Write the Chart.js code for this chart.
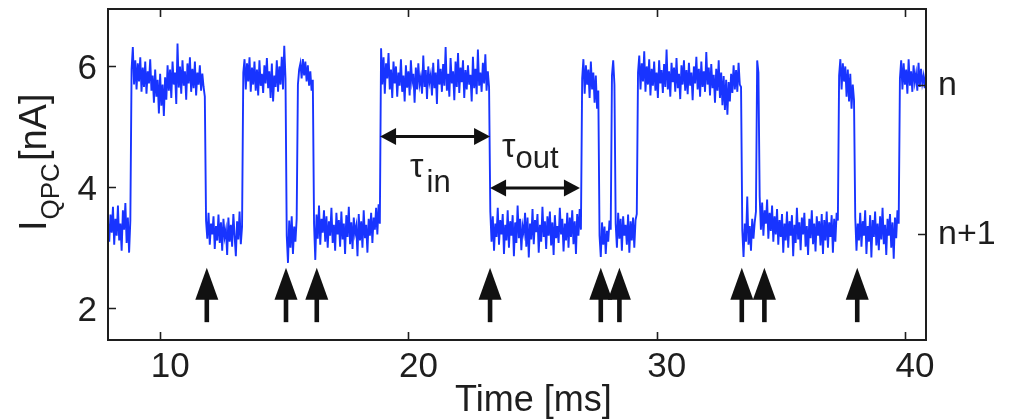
<!DOCTYPE html>
<html><head><meta charset="utf-8">
<script src="https://cdn.jsdelivr.net/npm/chart.js@4/dist/chart.umd.min.js"></script>
<style>html,body{margin:0;padding:0;background:#fff;overflow:hidden}canvas{display:block}</style>
</head><body>
<canvas id="c" width="1011" height="419" style="width:1011px;height:419px"></canvas>
<script>
// ---- data ----
const T0 = 7.9;          // ms, first sample time
const DT = 0.05;         // ms, sample spacing
const CURRENT = [
// low 7.90-8.80
3.42,3.10,3.55,3.25,3.68,3.05,3.48,3.20,3.70,3.12,3.40,2.95,3.62,3.30,3.74,3.08,3.50,2.92,3.45,
// high 8.85-11.80
5.95,6.32,5.70,6.10,5.62,6.05,5.75,6.15,5.58,5.98,
5.66,6.08,5.55,5.92,5.72,6.12,5.60,5.85,5.40,5.95,
5.50,5.78,5.22,5.88,5.35,5.70,5.18,5.82,5.45,6.02,
5.60,5.95,5.48,6.08,5.70,5.90,5.38,6.38,5.65,6.00,
5.55,6.10,5.68,5.92,5.45,6.05,5.72,6.15,5.58,5.96,
5.64,6.08,5.52,5.90,5.70,6.02,5.60,5.88,5.66,5.50,
// low 11.85-13.30
3.45,3.15,3.58,3.05,3.40,3.22,3.52,2.98,3.36,3.12,
3.55,3.08,3.42,2.95,3.48,3.18,3.30,2.88,3.50,3.10,
3.38,3.02,3.56,3.20,2.86,3.44,3.14,3.60,3.06,3.35,
// high 13.35-15.05
5.90,6.12,5.62,6.05,5.75,6.15,5.58,5.98,5.70,6.08,
5.60,5.95,5.52,6.10,5.68,5.88,5.56,6.02,5.72,6.14,
5.64,5.92,5.48,6.05,5.42,5.85,5.66,6.10,5.58,6.00,
5.70,6.16,5.62,6.34,5.80,
// low 15.10-15.50
3.20,2.75,3.45,3.00,3.52,2.90,3.35,3.10,3.48,
// high 15.55-16.15
5.70,5.95,6.05,5.80,6.12,5.85,6.08,5.75,6.02,5.68,5.92,5.60,5.78,
// low 16.20-18.85
3.40,2.80,3.55,3.15,3.70,3.05,3.48,3.25,3.62,3.10,
3.52,3.00,3.44,3.20,3.66,3.08,3.38,2.95,3.58,3.22,
3.46,3.02,3.60,3.14,3.40,2.90,3.54,3.18,3.68,3.06,
3.42,2.98,3.50,3.24,3.36,2.86,3.56,3.12,3.44,3.00,
3.62,3.16,3.38,2.92,3.48,3.20,3.58,3.08,3.50,3.30,
3.66,3.22,3.72,3.40,
// high 18.90-23.25
6.30,5.70,6.15,5.55,6.05,5.80,6.22,5.62,5.95,5.48,
6.08,5.72,6.00,5.50,5.90,5.68,6.12,5.58,5.85,5.42,
6.02,5.65,5.92,5.52,6.10,5.75,5.88,5.40,5.98,5.62,
6.05,5.70,5.82,5.55,6.18,5.66,5.94,5.46,6.00,5.74,
5.86,5.52,6.06,5.64,5.90,5.38,6.12,5.70,5.96,5.58,
6.04,5.68,6.32,5.60,5.88,5.50,6.14,5.72,5.92,5.44,
6.08,5.66,6.22,5.56,5.98,5.74,6.10,5.48,5.94,5.62,
6.02,5.70,5.86,5.42,6.16,5.64,5.96,5.54,6.28,5.68,
5.90,5.58,6.06,5.72,6.20,5.60,5.92,5.66,
// low 23.30-26.95
3.60,3.10,3.52,2.95,3.40,3.18,3.66,3.05,3.46,3.22,
3.56,2.90,3.38,3.12,3.62,3.00,3.44,3.20,3.54,2.86,
3.42,3.08,3.70,3.16,3.48,2.96,3.36,3.24,3.58,3.02,
3.50,2.84,3.40,3.14,3.64,3.06,3.46,3.26,3.56,2.92,
3.38,3.10,3.68,3.18,3.44,2.98,3.52,3.20,3.60,3.04,
3.42,2.88,3.54,3.16,3.36,3.08,3.66,3.22,3.48,2.94,
3.40,3.12,3.58,3.00,3.50,3.18,3.62,3.06,3.44,2.90,
3.56,3.20,3.64,3.30,
// high 27.00-27.65
5.80,6.12,5.55,6.02,5.70,5.95,5.48,6.08,5.62,5.90,5.40,5.85,5.30,5.60,
// low 27.70-28.15
3.20,2.85,3.42,3.05,3.35,2.90,3.28,3.10,3.45,3.30,
// high 28.20-28.30
5.85,6.10,5.70,
// low 28.35-29.20
3.40,3.00,3.58,3.15,3.48,2.95,3.52,3.20,3.38,3.05,3.55,2.92,3.44,3.12,3.50,3.00,3.46,3.56,
// high 29.25-33.40
5.90,6.18,5.62,6.05,5.75,6.25,5.58,6.00,5.70,6.12,
5.52,5.96,5.68,6.08,5.60,5.90,5.48,6.10,5.72,5.94,
5.56,6.04,5.66,6.28,5.62,5.92,5.50,6.06,5.74,5.98,
5.58,6.14,5.64,5.88,5.46,6.02,5.70,6.10,5.60,5.94,
5.54,6.06,5.68,5.90,5.44,6.00,5.72,6.16,5.62,5.96,
5.50,6.08,5.66,5.92,5.58,6.24,5.70,5.98,5.52,6.04,
5.64,5.86,5.40,5.96,5.60,6.10,5.48,5.90,5.36,5.84,
5.28,5.78,5.20,5.74,5.42,5.88,5.56,6.02,5.62,5.94,
5.58,6.06,5.70,5.66,
// low 33.45-34.00
3.30,2.85,3.40,3.10,3.85,3.05,3.36,2.95,3.48,3.15,3.42,3.60,
// spike 34.05-34.10
6.10,5.90,
// low 34.15-37.30
3.85,3.30,3.75,3.20,3.62,3.40,3.80,3.15,3.58,3.28,
3.70,3.10,3.52,3.22,3.64,3.05,3.46,3.18,3.56,2.92,
3.40,3.12,3.60,3.00,3.44,3.20,3.54,2.86,3.38,3.08,
3.66,3.14,3.42,2.96,3.50,3.22,3.58,3.02,3.36,2.88,
3.48,3.16,3.62,3.06,3.40,2.94,3.52,3.20,3.44,3.04,
3.56,2.90,3.46,3.12,3.60,3.00,3.42,3.18,3.54,2.92,
3.48,3.10,3.58,3.45,
// high 37.35-37.95
5.85,6.12,5.62,6.05,5.75,6.00,5.50,5.95,5.42,5.88,5.30,5.70,5.45,
// low 38.05-39.85
3.50,2.95,3.40,3.12,3.58,3.02,3.44,3.20,3.62,2.90,
3.36,3.10,3.54,2.84,3.46,3.18,3.60,3.04,3.40,2.96,
3.52,3.14,3.66,3.06,3.38,2.88,3.48,3.20,3.56,3.00,
3.42,2.82,3.50,3.16,3.62,3.40,
// high 39.90-40.85
5.80,6.10,5.62,6.05,5.70,5.95,5.55,6.12,5.68,5.92,5.58,6.02,5.74,5.88,5.60,6.06,5.66,5.96,5.72,5.84,5.64,5.90
];
const X_TICKS = [10, 20, 30, 40];
const Y_TICKS = [2, 4, 6];
const STATE_TICKS = [3.23, 5.70];
const STATE_LABELS = ['n+1', 'n'];
const ARROW_TIMES = [11.88, 15.07, 16.31, 23.29, 27.75, 28.50, 33.43, 34.34, 38.08];
const TAU_IN = [18.86, 23.29, 4.84];   // start, end, level
const TAU_OUT = [23.29, 26.91, 3.99];

// ---- style ----
const FONT = '"Liberation Sans", Arial, Helvetica, sans-serif';
const INK = '#1e1e1e';
const BLUE = 'rgb(24,52,255)';

function subText(ctx, x, y, main, sub, mainSize, subSize, gap, drop) {
  ctx.font = mainSize + 'px ' + FONT;
  ctx.fillText(main, x, y);
  const w = ctx.measureText(main).width;
  ctx.font = subSize + 'px ' + FONT;
  ctx.fillText(sub, x + w + gap, y + drop);
  return w + gap + ctx.measureText(sub).width;
}

const decor = {
  id: 'decor',
  afterDatasetsDraw(chart) {
    const { ctx, scales: { x, y } } = chart;
    ctx.save();
    ctx.fillStyle = '#111'; ctx.strokeStyle = '#111';
    // up arrows
    const tip = y.getPixelForValue(2.67), base = y.getPixelForValue(2.14), end = y.getPixelForValue(1.77);
    ARROW_TIMES.forEach(t => {
      const px = x.getPixelForValue(t);
      ctx.beginPath();
      ctx.moveTo(px, tip); ctx.lineTo(px + 11.5, base); ctx.lineTo(px - 11.5, base); ctx.closePath();
      ctx.fill();
      ctx.fillRect(px - 2.3, base - 1, 4.6, end - base + 1);
    });
    // double arrows
    function dbl(a) {
      const x1 = x.getPixelForValue(a[0]), x2 = x.getPixelForValue(a[1]), py = y.getPixelForValue(a[2]);
      ctx.lineWidth = 3;
      ctx.beginPath(); ctx.moveTo(x1 + 10, py); ctx.lineTo(x2 - 10, py); ctx.stroke();
      ctx.beginPath(); ctx.moveTo(x1, py); ctx.lineTo(x1 + 16, py - 8.5); ctx.lineTo(x1 + 16, py + 8.5); ctx.closePath(); ctx.fill();
      ctx.beginPath(); ctx.moveTo(x2, py); ctx.lineTo(x2 - 16, py - 8.5); ctx.lineTo(x2 - 16, py + 8.5); ctx.closePath(); ctx.fill();
      return { mid: (x1 + x2) / 2, py };
    }
    const a1 = dbl(TAU_IN), a2 = dbl(TAU_OUT);
    ctx.fillStyle = INK; ctx.textAlign = 'left'; ctx.textBaseline = 'alphabetic';
    subText(ctx, a1.mid - 25, a1.py + 40, '\u03C4', 'in', 34, 31, 3, 15);
    subText(ctx, a2.mid - 33, a2.py - 31, '\u03C4', 'out', 34, 31, 0, 11);
    ctx.restore();
  },
  afterDraw(chart) {
    const { ctx, chartArea: a, scales: { x, y, y2 } } = chart;
    ctx.save();
    ctx.strokeStyle = INK; ctx.lineWidth = 2;
    ctx.strokeRect(a.left, a.top, a.right - a.left, a.bottom - a.top);
    ctx.lineWidth = 1.6;
    ctx.beginPath();
    X_TICKS.forEach(v => {
      const px = Math.round(x.getPixelForValue(v)) + 0.5;
      ctx.moveTo(px, a.bottom); ctx.lineTo(px, a.bottom - 8);
      ctx.moveTo(px, a.top); ctx.lineTo(px, a.top + 8);
    });
    Y_TICKS.forEach(v => {
      const py = Math.round(y.getPixelForValue(v)) + 0.5;
      ctx.moveTo(a.left, py); ctx.lineTo(a.left + 8, py);
    });
    STATE_TICKS.forEach(v => {
      const py = Math.round(y2.getPixelForValue(v)) + 0.5;
      ctx.moveTo(a.right, py); ctx.lineTo(a.right - 8, py);
    });
    ctx.stroke();
    // axis titles
    ctx.fillStyle = INK; ctx.textAlign = 'left'; ctx.textBaseline = 'alphabetic';
    ctx.font = '36px ' + FONT;
    ctx.fillText('Time [ms]', 455, 411);
    ctx.translate(46, 231);
    ctx.rotate(-Math.PI / 2);
    const w = subText(ctx, 0, 0, 'I', 'QPC', 38, 26, 1, 13);
    ctx.font = '38px ' + FONT;
    ctx.fillText('[nA]', w + 2, 0);
    ctx.restore();
  }
};

const tickFont = { family: FONT, size: 35 };
const noGrid = { display: false, drawTicks: false };
new Chart(document.getElementById('c'), {
  type: 'line',
  data: {
    datasets: [{
      data: CURRENT.map((v, i) => ({ x: T0 + i * DT, y: v })),
      borderColor: BLUE, borderWidth: 1.9, pointRadius: 0, tension: 0, fill: false,
      borderJoinStyle: 'miter'
    }]
  },
  options: {
    responsive: false, animation: false, devicePixelRatio: 1,
    layout: { padding: { top: 9, left: 0, right: 0, bottom: 0 } },
    plugins: { legend: { display: false }, tooltip: { enabled: false } },
    scales: {
      x: {
        type: 'linear', min: 7.9, max: 40.85, position: 'bottom',
        afterBuildTicks: s => { s.ticks = X_TICKS.map(v => ({ value: v })); },
        afterFit: s => { s.height = 79; s.paddingLeft = 0; s.paddingRight = 0; },
        grid: noGrid, border: { display: false },
        ticks: { font: tickFont, color: INK, padding: 6, labelOffset: 10, maxRotation: 0, autoSkip: false }
      },
      y: {
        type: 'linear', min: 1.475, max: 6.95, position: 'left',
        afterBuildTicks: s => { s.ticks = Y_TICKS.map(v => ({ value: v })); },
        afterFit: s => { s.width = 108; s.paddingTop = 0; s.paddingBottom = 0; },
        grid: noGrid, border: { display: false },
        ticks: { font: tickFont, color: INK, padding: 11, labelOffset: 3 }
      },
      y2: {
        type: 'linear', min: 1.475, max: 6.95, position: 'right',
        afterBuildTicks: s => { s.ticks = STATE_TICKS.map(v => ({ value: v })); },
        afterFit: s => { s.width = 85; s.paddingTop = 0; s.paddingBottom = 0; },
        grid: noGrid, border: { display: false },
        ticks: { font: { family: FONT, size: 34 }, color: INK, padding: 12, labelOffset: 1,
                 callback: (v, i) => STATE_LABELS[i] }
      }
    }
  },
  plugins: [decor]
});
</script>
</body></html>
